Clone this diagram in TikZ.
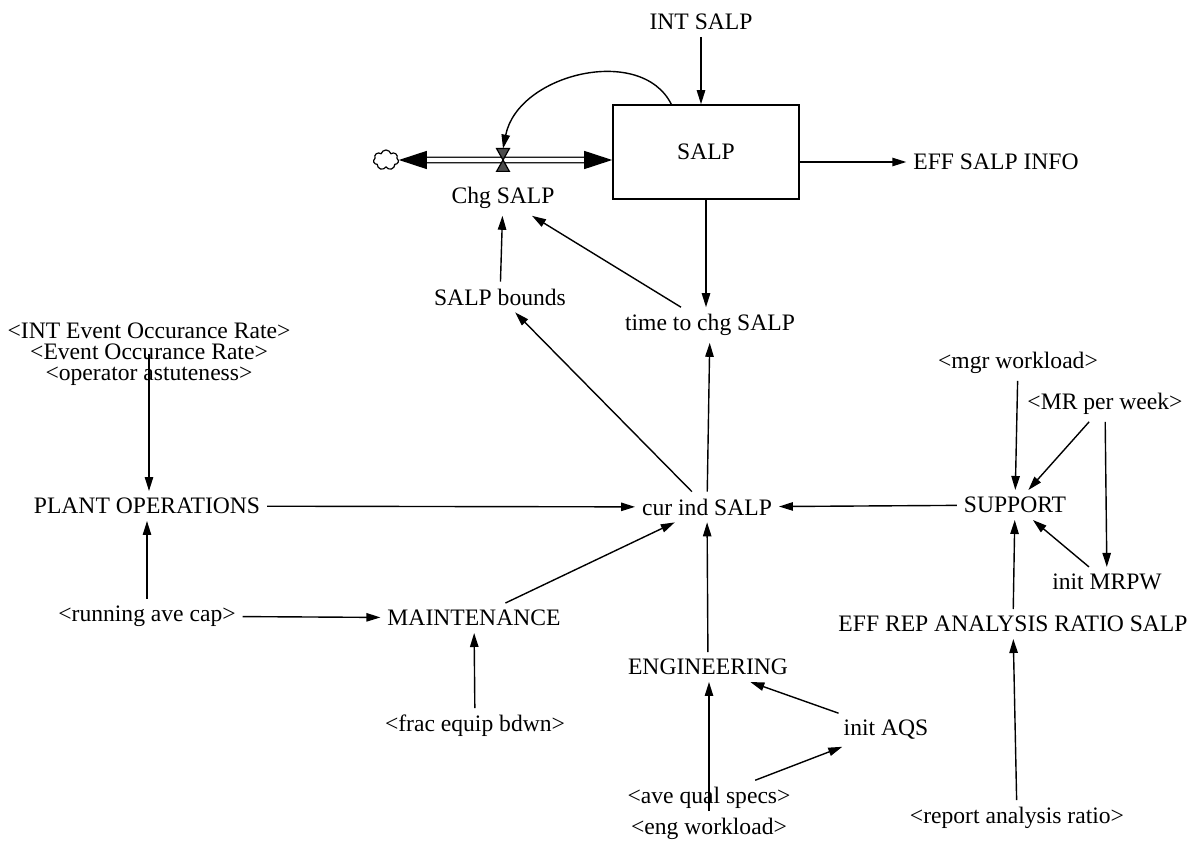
\documentclass[tikz,border=0pt]{standalone}
\usepackage{fontspec}
\setmainfont{Liberation Serif}
\usetikzlibrary{arrows.meta,shapes.symbols}

\begin{document}
\begin{tikzpicture}[x=0.5pt, y=-0.5pt,
  every node/.style={font=\fontsize{11.8}{12}\selectfont},
  link/.style={-{Triangle[length=7pt,width=4.2pt]}, line width=0.7pt},
  stock/.style={draw, line width=0.8pt, minimum width=93pt, minimum height=47pt},
  pipe/.style={double, double distance=2.2pt, line width=0.6pt,
    {Triangle[length=14pt,width=9pt]}-{Triangle[length=14pt,width=9pt]}}]
  \useasboundingbox[fill=white] (0,0) rectangle (1200,845);

  % stock, flow and its inputs
  \node (intsalp) at (701,22) {INT SALP};
  \node[stock] (salp) at (706,152) {SALP};
  \node[cloud, draw, cloud puffs=7, aspect=1.3, minimum width=12.5pt, minimum height=10pt,
    inner sep=0pt, line width=0.6pt] (src) at (386,160) {};
  \node[minimum width=6pt, minimum height=11pt, inner sep=0pt] (valve) at (503,160) {};
  \node (chg) at (503,198) {Chg SALP};
  \node (effinfo) at (996,162) {EFF SALP INFO};
  \node (bounds) at (500,297) {SALP bounds};
  \node (tchg) at (710,325) {time to chg SALP};

  \draw[pipe] (src) -- (src -| salp.west);
  \draw[fill=black!70, line width=0.6pt] (valve.north west) -- (valve.north east)
    -- (valve.south west) -- (valve.south east) -- cycle;
  \draw[link] (intsalp) -- (intsalp |- salp.north);
  \draw[link] (salp.126) .. controls +(-30,-60) and +(15,-75) .. (valve.north);
  \draw[link] (salp.east |- effinfo) -- (effinfo);
  \draw[link] (salp.south) -- (salp.south |- tchg.north);
  \draw[link] (tchg) -- (chg);
  \draw[link] (bounds) -- (chg);

  % sector indicators
  \node[align=center, font=\fontsize{11.8}{10.5}\selectfont] (events) at (149,354)
    {<INT Event Occurance Rate>\\<Event Occurance Rate>\\<operator astuteness>};
  \node (plant) at (147,506) {PLANT OPERATIONS};
  \node (cur) at (707,507) {cur ind SALP};
  \node (support) at (1015,505) {SUPPORT};
  \node (mgr) at (1018,363) {<mgr workload>};
  \node (mrweek) at (1105,404) {<MR per week>};
  \node (mrpw) at (1107,582) {init MRPW};
  \node (effrep) at (1013,624) {EFF REP ANALYSIS RATIO SALP};
  \node (report) at (1017,818) {<report analysis ratio>};
  \node (cap) at (147,616) {<running ave cap>};
  \node (maint) at (474,618) {MAINTENANCE};
  \node (frac) at (475,726) {<frac equip bdwn>};
  \node (eng) at (708,667) {ENGINEERING};
  \node (aqs) at (886,730) {init AQS};
  \node (qual) at (709,798) {<ave qual specs>};
  \node (engw) at (709,829) {<eng workload>};

  \draw[link] (cur) -- (tchg);
  \draw[link] (cur) -- (bounds);
  \draw[link] (plant) -- (cur);
  \draw[link] (support) -- (cur);
  \draw[link] (maint) -- (cur);
  \draw[link] (eng) -- (cur);
  \draw[link] (events.center) -- (events.center |- plant.north);
  \draw[link] (cap) -- (plant);
  \draw[link] (cap) -- (maint);
  \draw[link] (frac) -- (maint);
  \draw[link] (engw.north) -- (engw.north |- eng.south);
  \draw[link] (qual) -- (aqs);
  \draw[link] (aqs) -- (eng);
  \draw[link] (mgr) -- (support);
  \draw[link] (mrweek) -- (support);
  \draw[link] (mrweek) -- (mrpw);
  \draw[link] (mrpw) -- (support);
  \draw[link] (effrep) -- (support);
  \draw[link] (report) -- (effrep);
\end{tikzpicture}
\end{document}
